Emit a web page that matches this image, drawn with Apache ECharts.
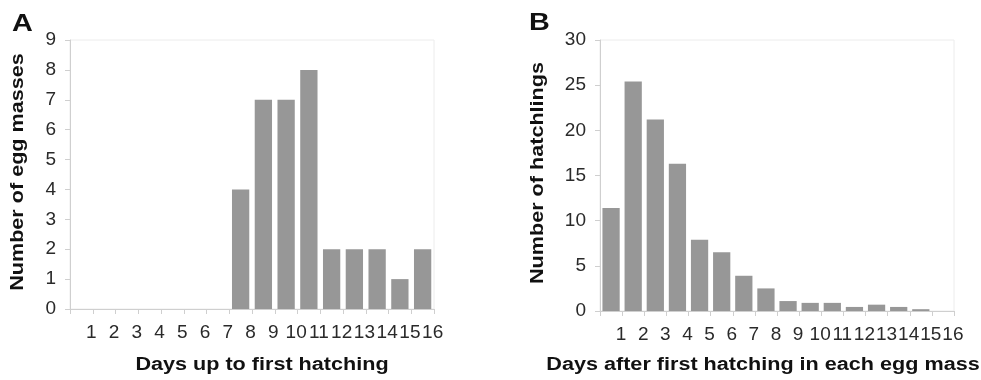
<!DOCTYPE html>
<html><head><meta charset="utf-8">
<script src="https://cdn.jsdelivr.net/npm/echarts@6/dist/echarts.min.js"></script>
<style>html,body{margin:0;padding:0;background:#fff}#c{width:981px;height:380px}</style>
</head><body><div id="c"></div>
<script>
const daysA = ['1','2','3','4','5','6','7','8','9','10','11','12','13','14','15','16'];
const eggMasses = [0,0,0,0,0,0,0,4,7,7,8,2,2,2,1,2];
const daysB = ['1','2','3','4','5','6','7','8','9','10','11','12','13','14','15','16'];
const hatchlings = [11.4,25.4,21.2,16.3,7.9,6.5,3.9,2.5,1.1,0.9,0.9,0.45,0.7,0.45,0.2,0];
const yTicksA = {min:0,max:9,interval:1};
const yTicksB = {min:0,max:30,interval:5};
const titlesA = {x:'Days up to first hatching', y:'Number of egg masses', panel:'A'};
const titlesB = {x:'Days after first hatching in each egg mass', y:'Number of hatchlings', panel:'B'};

const FONT = 'Liberation Sans, Arial, sans-serif';
const axisGray = '#cfcfcf';
const barColor = '#979797';
const STRETCH = 1.2;

function xAx(gi, data){
  return {
    type:'category', gridIndex:gi, data:data, boundaryGap:true,
    axisLine:{show:true, lineStyle:{color:axisGray}},
    axisTick:{show:true, interval:0, length:5, lineStyle:{color:axisGray}},
    axisLabel:{interval:0, fontSize:19, color:'#2a2a2a', fontFamily:FONT, margin:14, padding:[0,0,0,20]}
  };
}
function yAx(gi, t){
  return {
    type:'value', gridIndex:gi, min:t.min, max:t.max, interval:t.interval,
    axisLine:{show:true, lineStyle:{color:axisGray}},
    axisTick:{show:true, length:5, lineStyle:{color:axisGray}},
    splitLine:{show:false},
    axisLabel:{fontSize:19, color:'#2a2a2a', fontFamily:FONT, margin:14}
  };
}
function label(text, x, y, size, rot){
  return {type:'text', x:x, y:y, rotation:rot||0, scaleX:STRETCH, scaleY:1,
    style:{text:text, font:'bold '+size+'px '+FONT, fill:'#111', align:'center', verticalAlign:'middle'}};
}

const chart = echarts.init(document.getElementById('c'), null, {renderer:'canvas'});
chart.setOption({
  animation:false,
  backgroundColor:'#fff',
  grid:[
    {left:70, top:40, width:364, height:269, show:true, borderColor:'#ececec', borderWidth:1, backgroundColor:'transparent'},
    {left:600, top:40, width:354, height:271, show:true, borderColor:'#ececec', borderWidth:1, backgroundColor:'transparent'}
  ],
  xAxis:[ xAx(0, daysA), xAx(1, daysB) ],
  yAxis:[ yAx(0, yTicksA), yAx(1, yTicksB) ],
  series:[
    {type:'bar', xAxisIndex:0, yAxisIndex:0, data:eggMasses, barCategoryGap:'24%', itemStyle:{color:barColor}},
    {type:'bar', xAxisIndex:1, yAxisIndex:1, data:hatchlings, barCategoryGap:'22%', itemStyle:{color:barColor}}
  ],
  graphic:[
    label(titlesA.panel, 22.5, 24, 24),
    label(titlesB.panel, 539.5, 23, 24),
    label(titlesA.x, 262, 365, 18),
    label(titlesB.x, 763, 365, 18),
    label(titlesA.y, 18, 172, 18, Math.PI/2),
    label(titlesB.y, 538, 173, 18, Math.PI/2)
  ]
});
</script></body></html>
